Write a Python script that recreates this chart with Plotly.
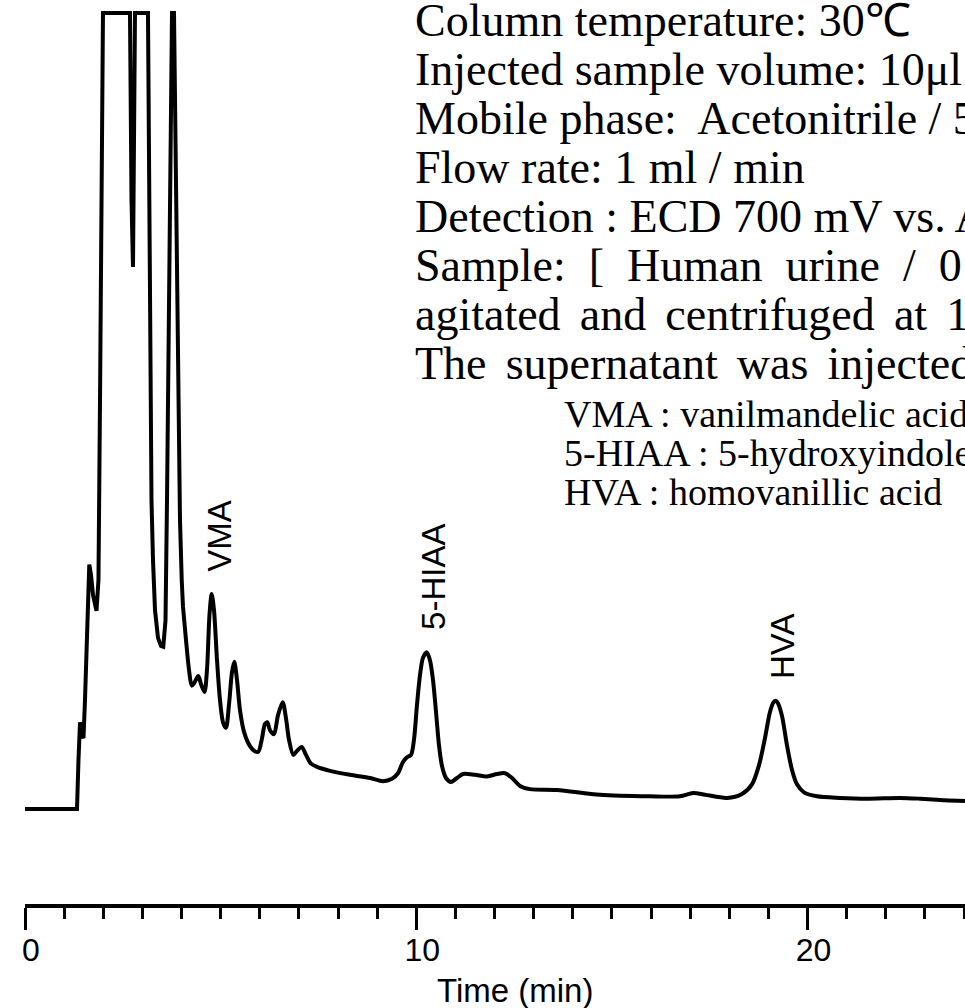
import numpy as np
import plotly.graph_objects as go

# Retention time (min) and detector response (recorder units, 100 = full scale)
time_min = [
    0.000, 1.329, 1.367, 1.406, 1.457, 1.495, 1.533, 1.584, 1.643, 1.687,
    1.738, 1.827, 1.878, 1.917, 1.955, 1.993, 2.683, 2.696, 2.722, 2.760,
    2.786, 2.811, 3.143, 3.169, 3.194, 3.233, 3.271, 3.322, 3.399, 3.476,
    3.534, 3.591, 3.629, 3.655, 3.706, 3.757, 3.808, 3.859, 3.910, 3.961,
    4.005, 4.038, 4.115, 4.191, 4.260, 4.319, 4.429, 4.498, 4.587, 4.651,
    4.715, 4.771, 4.830, 4.907, 4.983, 5.060, 5.137, 5.213, 5.290, 5.349,
    5.418, 5.495, 5.597, 5.750, 5.865, 5.962, 6.057, 6.133, 6.192, 6.261,
    6.363, 6.466, 6.586, 6.670, 6.747, 6.857, 6.951, 7.071, 7.181, 7.309,
    7.462, 7.795, 8.306, 8.817, 9.149, 9.379, 9.532, 9.660, 9.762, 9.865,
    9.941, 10.018, 10.094, 10.171, 10.266, 10.350, 10.427, 10.504, 10.580, 10.657,
    10.759, 10.887, 11.040, 11.194, 11.500, 11.807, 12.062, 12.267, 12.446, 12.650,
    12.906, 13.596, 14.695, 15.972, 16.739, 17.071, 17.378, 17.940, 18.324, 18.579,
    18.758, 18.911, 19.039, 19.128, 19.185, 19.244, 19.346, 19.474, 19.602, 19.729,
    19.908, 20.240, 20.828, 21.518, 22.361, 22.872, 23.511, 24.023,
]
response = [
    0.0, 0.0, 6.2, 10.9, 9.3, 8.9, 13.7, 23.7, 30.7, 29.4,
    26.9, 24.9, 28.8, 51.4, 76.5, 100.0, 100.0, 89.1, 76.5, 68.1,
    82.8, 100.0, 100.0, 76.5, 51.4, 38.8, 31.3, 25.0, 21.5, 20.5,
    20.4, 23.7, 38.8, 51.4, 76.5, 100.0, 100.0, 76.5, 51.4, 36.3,
    28.8, 25.4, 21.2, 17.5, 15.5, 15.8, 16.7, 15.7, 14.7, 17.5,
    24.4, 27.0, 25.0, 18.7, 13.7, 10.9, 10.2, 13.1, 17.2, 18.5,
    16.2, 12.4, 9.7, 7.9, 7.3, 7.2, 8.9, 10.7, 10.9, 9.9,
    9.4, 11.8, 13.4, 11.4, 8.7, 6.8, 7.3, 7.8, 6.8, 5.7,
    5.3, 4.8, 4.3, 3.9, 3.5, 3.8, 4.5, 5.9, 6.5, 6.8,
    8.7, 13.1, 16.8, 19.0, 19.7, 18.7, 16.2, 12.2, 8.0, 5.4,
    3.9, 3.4, 3.9, 4.4, 4.3, 4.1, 4.4, 4.5, 3.9, 2.9,
    2.5, 2.4, 1.8, 1.6, 1.6, 2.0, 1.8, 1.4, 1.9, 3.1,
    5.5, 8.9, 12.2, 13.4, 13.6, 13.3, 11.7, 8.0, 4.9, 3.1,
    2.1, 1.6, 1.4, 1.3, 1.4, 1.3, 1.1, 1.0,
]

peak_names = ["VMA", "5-HIAA", "HVA"]
peak_times = [4.771, 10.266, 19.185]

tick_values = [0, 10, 20]
x_title = "Time (min)"

EN = "\u2002"          # wide justified gap
WS = " \u2006"         # slightly widened gap
conditions = [
    "Column temperature: 30\u2103",
    "Injected sample volume: 10\u03bcl",
    "Mobile phase:\u00a0 Acetonitrile / 5",
    "Flow rate: 1 ml / min",
    "Detection : ECD 700 mV vs. Ag/AgCl",
    "Sample:" + EN + "[" + EN + "Human" + EN + "urine" + EN + "/" + EN + "0",
    "agitated" + WS + "and" + WS + "centrifuged" + WS + "at" + WS + "1",
    "The" + WS + "supernatant" + WS + "was" + WS + "injected",
]
abbreviations = [
    "VMA : vanilmandelic acid",
    "5-HIAA : 5-hydroxyindoleacetic acid",
    "HVA : homovanillic acid",
]

W, H = 965, 1008
ML, MR, MT, MB = 25, 0, 0, 104
PW, PH = W - ML - MR, H - MT - MB


def px(x):
    return (x - ML) / PW


def py(y):
    return (H - MB - y) / PH


t = np.array(time_min)
r = np.array(response)
split = 41  # end of the off-scale solvent-front region

fig = go.Figure()
line = dict(color="black", width=4)
fig.add_trace(go.Scatter(x=t[:split + 1], y=r[:split + 1], mode="lines",
                         line=dict(line, shape="linear"), hoverinfo="skip"))
fig.add_trace(go.Scatter(x=t[split:], y=r[split:], mode="lines",
                         line=dict(line, shape="spline", smoothing=0.8),
                         hoverinfo="skip"))

sans = "Liberation Sans, Arial, sans-serif"
serif = "Liberation Serif, Times New Roman, serif"

annotations = []
for name, rt in zip(peak_names, peak_times):
    annotations.append(dict(
        x=rt, y=float(np.interp(rt, t, r)), xref="x", yref="y",
        text=name, textangle=-90, showarrow=False,
        xanchor="center", yanchor="bottom", xshift=7, yshift=20,
        font=dict(family=sans, size=33, color="black"),
    ))

for i, line_text in enumerate(conditions):
    annotations.append(dict(
        x=px(413), y=py(20 + 49 * i), xref="paper", yref="paper",
        text=line_text, showarrow=False, xanchor="left", yanchor="middle",
        font=dict(family=serif, size=46, color="black"),
    ))

for i, line_text in enumerate(abbreviations):
    annotations.append(dict(
        x=px(562), y=py(414 + 39 * i), xref="paper", yref="paper",
        text=line_text, showarrow=False, xanchor="left", yanchor="middle",
        font=dict(family=serif, size=38, color="black"),
    ))

annotations.append(dict(
    x=px(515), y=py(990), xref="paper", yref="paper", text=x_title,
    showarrow=False, xanchor="center", yanchor="middle",
    font=dict(family=sans, size=33, color="black"),
))

fig.update_layout(
    width=W, height=H,
    margin=dict(l=ML, r=MR, t=MT, b=MB, pad=0),
    paper_bgcolor="white", plot_bgcolor="white",
    showlegend=False,
    annotations=annotations,
    xaxis=dict(
        range=[0, 24.023], showgrid=False, zeroline=False,
        showline=True, linewidth=4, linecolor="black",
        tickmode="array", tickvals=tick_values,
        ticks="outside", ticklen=22, tickwidth=3, tickcolor="black",
        ticklabelstandoff=-7, ticklabelshift=6,
        tickfont=dict(family=sans, size=32, color="black"),
        minor=dict(dtick=1, tick0=0, ticks="outside", ticklen=11,
                   tickwidth=3, tickcolor="black", showgrid=False),
    ),
    yaxis=dict(visible=False, range=[-11.93, 101.63], showgrid=False,
               zeroline=False),
)

fig.write_html("out.html")
